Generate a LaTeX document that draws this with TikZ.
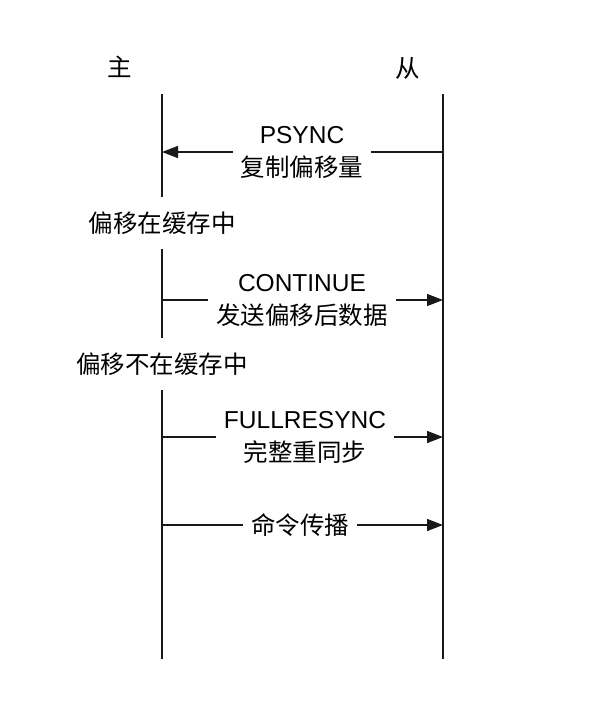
\documentclass[tikz,border=0pt]{standalone}
\usepackage{fontspec}
\setmainfont{Liberation Sans}
\newfontfamily\cjk{Noto Sans CJK SC}
\usetikzlibrary{arrows.meta}
\begin{document}
\begin{tikzpicture}[x=1pt,y=-1pt,
  every node/.style={font=\fontsize{24.5}{33}\selectfont},
  life/.style={draw=black!90,line width=1.4pt},
  msg/.style={draw=black!90,line width=1.4pt},
  tip/.style={-{Triangle[length=16pt,width=12pt]}},
  msglabel/.style={align=center,inner xsep=8pt,inner ysep=2pt},
  breaklabel/.style={minimum height=52pt,inner ysep=0pt,inner xsep=4pt}]
\useasboundingbox (0,0) rectangle (608,710);
% headers
\node (hm) at (120,67) {\cjk 主};
\node (hs) at (408,68) {\cjk 从};
% lifeline ends
\coordinate (mtop) at (162,94);
\coordinate (mbot) at (162,659);
\coordinate (stop) at (443,94);
\coordinate (sbot) at (443,659);
% master lifeline with state labels
\node[breaklabel] (b1) at (162,223) {\cjk 偏移在缓存中};
\node[breaklabel] (b2) at (162,364) {\cjk 偏移不在缓存中};
\draw[life] (mtop) -- (b1);
\draw[life] (b1) -- (b2);
\draw[life] (b2) -- (mbot);
\draw[life] (stop) -- (sbot);
% messages
\coordinate (s1) at (443,152);  \coordinate (m1) at (162,152);
\coordinate (m2) at (162,300);  \coordinate (s2) at (443,300);
\coordinate (m3) at (162,437);  \coordinate (s3) at (443,437);
\coordinate (m4) at (162,525);  \coordinate (s4) at (443,525);
\node[msglabel] (l1) at (302,152) {PSYNC\\{\cjk 复制偏移量}};
\node[msglabel] (l2) at (302,300) {CONTINUE\\{\cjk 发送偏移后数据}};
\node[msglabel] (l3) at (305,437) {FULLRESYNC\\{\cjk 完整重同步}};
\node[msglabel] (l4) at (300,525) {\cjk 命令传播};
\draw[msg] (s1) -- (l1);
\draw[msg,tip] (l1) -- (m1);
\draw[msg] (m2) -- (l2);
\draw[msg,tip] (l2) -- (s2);
\draw[msg] (m3) -- (l3);
\draw[msg,tip] (l3) -- (s3);
\draw[msg] (m4) -- (l4);
\draw[msg,tip] (l4) -- (s4);
\end{tikzpicture}
\end{document}
